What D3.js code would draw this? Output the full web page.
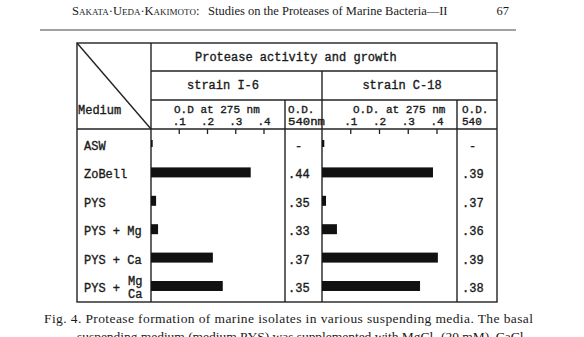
<!DOCTYPE html>
<html lang="en">
<head>
<meta charset="utf-8">
<title>protease activity and growth</title>
<script type="text/javascript" src="https://d3js.org/d3.v7.min.js"></script>
<style type="text/css">
    body{
        margin:0;
        background:#fff;
    }
    svg text{
        fill:#1a1a1a;
    }
    .mono{
        font-family:"Liberation Mono", "DejaVu Sans Mono", monospace;
        font-size:12px;
        stroke:#1a1a1a;
        stroke-width:0.35px;
    }
    .small{
        font-size:11px;
    }
    .serif{
        font-family:"Liberation Serif", serif;
    }
</style>
</head>
<body>
<div id="chart"></div>
<script type="text/javascript">
// media (rows)
var media = ["ASW", "ZoBell", "PYS", "PYS + Mg", "PYS + Ca", "PYS + MgCa"]
// protease activity, O.D. at 275 nm
var activityI6 = [0.006, 0.353, 0.018, 0.025, 0.219, 0.254]
var activityC18 = [0.008, 0.386, 0.014, 0.052, 0.403, 0.341]
// growth, O.D. 540 nm
var growthI6 = ["-", ".44", ".35", ".33", ".37", ".35"]
var growthC18 = ["-", ".39", ".37", ".36", ".39", ".38"]
var tickValues = [0.1, 0.2, 0.3, 0.4]
var tickLabels = [".1", ".2", ".3", ".4"]

var W = 584, H = 337
var svg = d3.select("#chart").append("svg").attr("width", W).attr("height", H)

// page header
var head = svg.append("text").attr("class", "serif").attr("y", 15).attr("font-size", 12.5)
head.append("tspan").attr("x", 72).style("font-variant", "small-caps").text("Sakata·Ueda·Kakimoto:")
head.append("tspan").attr("x", 208).text("Studies on the Proteases of Marine Bacteria—II")
svg.append("text").attr("class", "serif").attr("x", 509).attr("y", 15).attr("font-size", 12.5)
    .attr("text-anchor", "end").text("67")
svg.append("line").attr("x1", 40).attr("x2", 516).attr("y1", 30).attr("y2", 30)
    .attr("stroke", "#444").attr("stroke-width", 1)

// table frame
var tLeft = 77, tRight = 497, tTop = 43, tBottom = 302
var colMed = 151, colI6 = 285, colStrain = 322, colC18 = 457
var rowTitle = 71, rowStrain = 100, rowHead = 129
var g = svg.append("g").attr("stroke", "#222").attr("stroke-width", 1.4)
g.append("rect").attr("x", tLeft).attr("y", tTop).attr("width", tRight - tLeft).attr("height", tBottom - tTop)
    .attr("fill", "none")
g.append("line").attr("x1", tLeft).attr("y1", tTop).attr("x2", colMed).attr("y2", rowHead)
g.append("line").attr("x1", colMed).attr("y1", tTop).attr("x2", colMed).attr("y2", tBottom)
g.append("line").attr("x1", colMed).attr("y1", rowTitle).attr("x2", tRight).attr("y2", rowTitle)
g.append("line").attr("x1", colMed).attr("y1", rowStrain).attr("x2", tRight).attr("y2", rowStrain)
g.append("line").attr("x1", tLeft).attr("y1", rowHead).attr("x2", tRight).attr("y2", rowHead)
g.append("line").attr("x1", colStrain).attr("y1", rowTitle).attr("x2", colStrain).attr("y2", tBottom)
g.append("line").attr("x1", colI6).attr("y1", rowStrain).attr("x2", colI6).attr("y2", tBottom)
g.append("line").attr("x1", colC18).attr("y1", rowStrain).attr("x2", colC18).attr("y2", tBottom)

// header texts
svg.append("text").attr("class", "mono").attr("x", 195).attr("y", 61).text("Protease activity and growth")
svg.append("text").attr("class", "mono").attr("x", 223).attr("y", 89).attr("text-anchor", "middle").text("strain I-6")
svg.append("text").attr("class", "mono").attr("x", 402).attr("y", 89).attr("text-anchor", "middle").text("strain C-18")
svg.append("text").attr("class", "mono").attr("x", 78).attr("y", 114).text("Medium")
svg.append("text").attr("class", "mono small").attr("x", 174).attr("y", 113).text("O.D at 275 nm")
svg.append("text").attr("class", "mono small").attr("x", 353).attr("y", 113).text("O.D. at 275 nm")
svg.append("text").attr("class", "mono small").attr("x", 288).attr("y", 113).text("O.D.")
svg.append("text").attr("class", "mono small").attr("x", 288).attr("y", 125).attr("textLength", 37)
    .attr("lengthAdjust", "spacingAndGlyphs").text("540nm")
svg.append("text").attr("class", "mono small").attr("x", 462).attr("y", 113).text("O.D.")
svg.append("text").attr("class", "mono small").attr("x", 462).attr("y", 125).text("540")

// scales
var y = d3.scalePoint().domain(media).range([144, 286])
var xI6 = d3.scaleLinear().domain([0, 0.4]).range([colMed, 264])
var xC18 = d3.scaleLinear().domain([0, 0.4]).range([colStrain, 437])

function drawStrain(x, values, growth, growthX){
    // ticks hanging from the header line
    svg.selectAll(null).data(tickValues).enter().append("line")
        .attr("x1", function(d){ return x(d) }).attr("x2", function(d){ return x(d) })
        .attr("y1", rowHead).attr("y2", rowHead + 5)
        .attr("stroke", "#222").attr("stroke-width", 1.3)
    svg.selectAll(null).data(tickValues).enter().append("text")
        .attr("class", "mono small").attr("text-anchor", "middle")
        .attr("x", function(d){ return x(d) }).attr("y", 125)
        .text(function(d, i){ return tickLabels[i] })
    // bars
    svg.selectAll(null).data(values).enter().append("rect")
        .attr("x", x(0)).attr("width", function(d){ return x(d) - x(0) })
        .attr("y", function(d, i){ return y(media[i]) - (i == 0 ? 4 : 5) })
        .attr("height", function(d, i){ return i == 0 ? 7 : 10 })
        .attr("fill", "#111")
    // growth values
    svg.selectAll(null).data(growth).enter().append("text")
        .attr("class", "mono").attr("x", function(d){ return d == "-" ? growthX + 7 : growthX })
        .attr("y", function(d, i){ return y(media[i]) + 6 })
        .text(function(d){ return d })
}
drawStrain(xI6, activityI6, growthI6, 288)
drawStrain(xC18, activityC18, growthC18, 462)

// medium labels
media.forEach(function(m, i){
    if(m == "PYS + MgCa"){
        svg.append("text").attr("class", "mono").attr("x", 84).attr("y", y(m) + 6).text("PYS +")
        svg.append("text").attr("class", "mono").attr("x", 128).attr("y", y(m) - 1).text("Mg")
        svg.append("text").attr("class", "mono").attr("x", 128).attr("y", y(m) + 12).text("Ca")
    }else{
        svg.append("text").attr("class", "mono").attr("x", 84).attr("y", y(m) + 6).text(m)
    }
})

// caption
svg.append("text").attr("class", "serif").attr("x", 44).attr("y", 323).attr("font-size", 13.5)
    .attr("textLength", 489).attr("lengthAdjust", "spacing")
    .text("Fig. 4.   Protease formation of marine isolates in various suspending media.   The basal")
svg.append("text").attr("class", "serif").attr("x", 77).attr("y", 341).attr("font-size", 13.5)
    .attr("textLength", 451).attr("lengthAdjust", "spacing")
    .html("suspending medium (medium PYS) was supplemented with MgCl<tspan font-size='9' dy='3'>2</tspan><tspan dy='-3'> (20 mM), CaCl</tspan><tspan font-size='9' dy='3'>2</tspan>")
</script>
</body>
</html>
